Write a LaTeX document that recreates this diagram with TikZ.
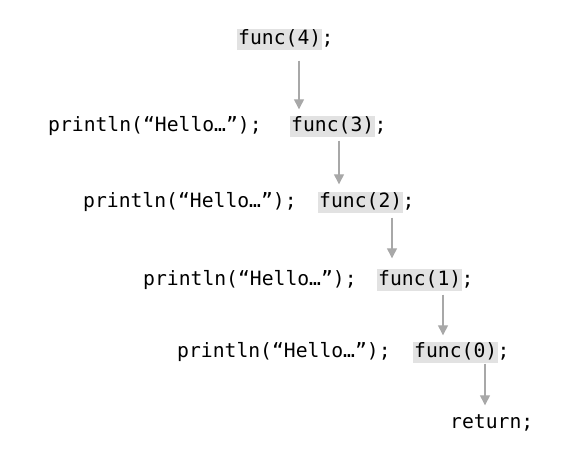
\documentclass[tikz,border=0pt]{standalone}
\usepackage{fontspec}
\setmonofont{DejaVu Sans Mono}
\usetikzlibrary{arrows.meta}
\definecolor{hl}{HTML}{E2E2E2}
\definecolor{arrowgray}{HTML}{A8A8A8}
\tikzset{
  code/.style={font=\ttfamily\fontsize{19.7}{22}\selectfont, text height=14.5pt, text depth=4.5pt, inner xsep=1pt, inner ysep=1pt, anchor=west},
  call/.style={code, fill=hl},
  semi/.style={code, inner xsep=0pt, anchor=west},
  arr/.style={draw=arrowgray, line width=1.3pt, -{Triangle[width=10pt,length=10pt]}}
}
\begin{document}
\begin{tikzpicture}[x=1pt,y=1pt]
\useasboundingbox (0,0) rectangle (580,474);
% row 1
\node[call] (f4) at (237,434) {func(4)};
\node[semi] (s4) at ([xshift=-1pt]f4.east) {;};
% row 2
\node[code] (p3) at (47,347) {println(“Hello…”);};
\node[call] (f3) at (290,347) {func(3)};
\node[semi] (s3) at ([xshift=-1pt]f3.east) {;};
% row 3
\node[code] (p2) at (82,271) {println(“Hello…”);};
\node[call] (f2) at (318,271) {func(2)};
\node[semi] (s2) at ([xshift=-1pt]f2.east) {;};
% row 4
\node[code] (p1) at (142,194) {println(“Hello…”);};
\node[call] (f1) at (377,194) {func(1)};
\node[semi] (s1) at ([xshift=-1pt]f1.east) {;};
% row 5
\node[code] (p0) at (176,122) {println(“Hello…”);};
\node[call] (f0) at (413,122) {func(0)};
\node[semi] (s0) at ([xshift=-1pt]f0.east) {;};
% row 6
\node[code, inner xsep=0pt] (r) at (450,51) {return;};
% arrows
\coordinate (a1) at ([xshift=62pt,yshift=-10pt]f4.south west);
\draw[arr] (a1) -- ([yshift=7pt]a1 |- f3.north);
\coordinate (a2) at ([xshift=49pt,yshift=-3pt]f3.south west);
\draw[arr] (a2) -- ([yshift=8pt]a2 |- f2.north);
\coordinate (a3) at ([xshift=74pt,yshift=-4pt]f2.south west);
\draw[arr] (a3) -- ([yshift=11pt]a3 |- f1.north);
\coordinate (a4) at ([xshift=66pt,yshift=-4pt]f1.south west);
\draw[arr] (a4) -- ([yshift=6pt]a4 |- f0.north);
\coordinate (a5) at ([xshift=72pt,yshift=-1pt]f0.south west);
\draw[arr] (a5) -- ([yshift=7pt]a5 |- r.north);
\end{tikzpicture}
\end{document}
